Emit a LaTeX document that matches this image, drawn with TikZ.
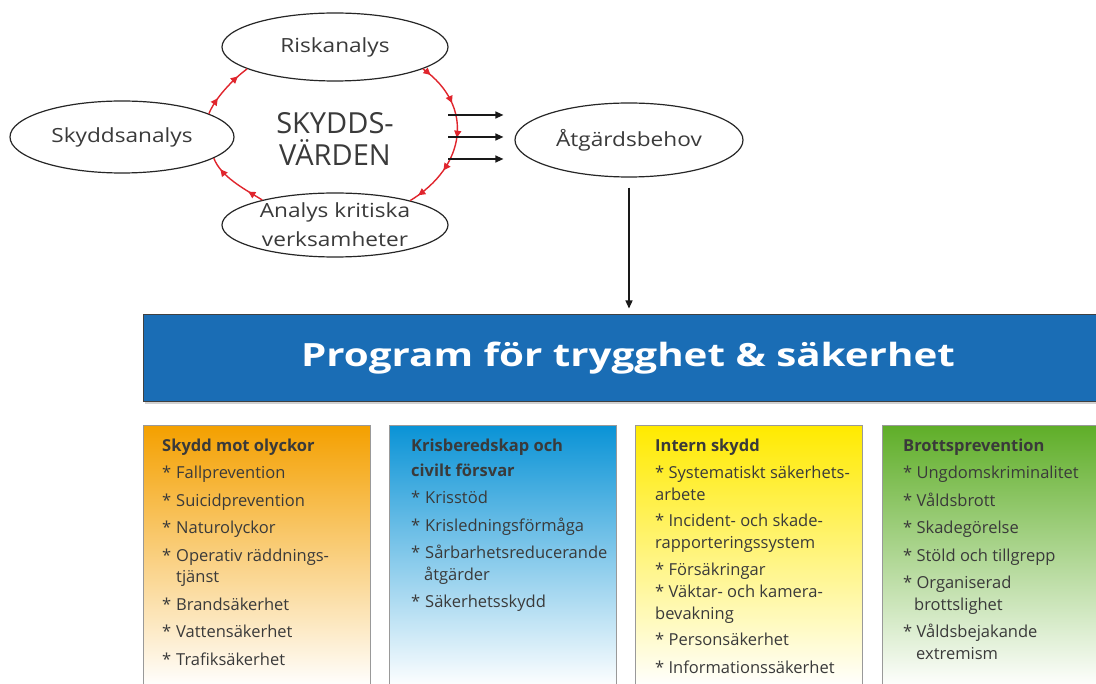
\documentclass[tikz,border=0pt]{standalone}
\usepackage{fontspec}
\setmainfont{Open Sans}
\newfontfamily\ovalfont[FakeStretch=1.16]{Open Sans}
\newfontfamily\bannerfont[FakeStretch=1.26]{Open Sans}
\usepackage{xcolor}
\usetikzlibrary{shapes,arrows.meta,decorations.markings,shadows}

\definecolor{txtgray}{HTML}{3A3A3A}
\definecolor{loopred}{HTML}{E0252D}
\definecolor{bannerblue}{HTML}{1A6DB5}
\definecolor{olyckor}{HTML}{F4A000}
\definecolor{kris}{HTML}{0A93D6}
\definecolor{intern}{HTML}{FFEA00}
\definecolor{brott}{HTML}{5FAE28}

\newcommand{\itemstar}{\makebox[14pt][l]{*}}

\begin{document}
\begin{tikzpicture}[x=1pt,y=-1pt]
\tikzstyle{oval} = [ellipse, draw=black!85, line width=1.2pt, minimum width=226pt, minimum height=68pt, inner sep=0pt, text=txtgray, font=\ovalfont\fontsize{19.5}{29}\selectfont, align=center]
\tikzstyle{redarc} = [draw=loopred, line width=1.4pt, postaction={decorate}]
\tikzstyle{tips} = [decoration={markings, mark=between positions #1 with {\arrow{Triangle[length=7pt,width=7pt]}}}]
\tikzstyle{flow} = [-{Triangle[length=8pt,width=7pt]}, line width=1.3pt, black!90]
\tikzstyle{catbox} = [draw=black!40, line width=1pt, minimum width=227pt, minimum height=262pt, anchor=north west, shading=axis, bottom color=white]
\tikzstyle{cattext} = [anchor=north west, align=left, text=txtgray, inner sep=0pt, font=\fontsize{16.5}{21.5}\selectfont]
\clip (0,0) rectangle (1096,684);
\fill[white] (0,0) rectangle (1096,684);

\node [oval] (risk) at (335,47) {Riskanalys};
\node [oval, minimum width=224pt, minimum height=72pt] (skydd) at (122,137) {Skyddsanalys};
\node [oval, minimum height=64pt, inner ysep=-8pt] (krit) at (335,225) {Analys kritiska\\verksamheter};
\node [oval, minimum width=228pt, minimum height=74pt] (atg) at (629,140) {Åtgärdsbehov};
\node [text=txtgray, align=center, font=\fontsize{29}{32}\selectfont] (varden) at (335,139) {SKYDDS-\\VÄRDEN};

\draw [redarc, tips={0.3 and 0.8 step 0.5}] (skydd.15) .. controls +(6,-15) and +(-15,11) .. (risk.194);
\draw [redarc, tips={0.06 and 0.94 step 0.22}] (risk.346) .. controls +(52,37) and +(56,-34) .. (krit.18);
\draw [redarc, tips={0.25 and 0.8 step 0.55}] (krit.161) .. controls +(-20,-12) and +(7,18) .. (skydd.-13);

\coordinate (o1) at (448,115);
\coordinate (o2) at (448,137);
\coordinate (o3) at (448,159);
\draw [flow, shorten >=11pt] (o1) -- (o1 -| atg.west);
\draw [flow, shorten >=11pt] (o2) -- (o2 -| atg.west);
\draw [flow, shorten >=11pt] (o3) -- (o3 -| atg.west);

\node [draw=black!75, line width=1pt, fill=bannerblue, minimum width=968pt, minimum height=87pt, drop shadow={shadow xshift=1.5pt, shadow yshift=-2pt, opacity=0.35}] (banner) at (627,358.5) {};
\node [text=white, font=\bannerfont\fontsize{32}{36}\selectfont\bfseries] (title) at (628,358) {Program för trygghet \& säkerhet};
\draw [flow, shorten <=10pt, shorten >=6pt] (atg.south) -- (atg.south |- banner.north);

\node [catbox, top color=olyckor] (box1) at (143,425) {};
\node [catbox, top color=kris] (box2) at (389,425) {};
\node [catbox, top color=intern] (box3) at (635,425) {};
\node [catbox, top color=brott] (box4) at (882,425) {};

\node [cattext] (list1) at (162,439) {\textbf{Skydd mot olyckor}\\[5.5pt]
\itemstar Fallprevention\\[6pt]
\itemstar Suicidprevention\\[6pt]
\itemstar Naturolyckor\\[6pt]
\itemstar Operativ räddnings-\\
\hspace*{14pt}tjänst\\[6pt]
\itemstar Brandsäkerhet\\[6pt]
\itemstar Vattensäkerhet\\[6pt]
\itemstar Trafiksäkerhet};

\node [cattext] (list2) at (411,439) {\textbf{Krisberedskap och}\\[3.5pt]
\textbf{civilt försvar}\\[5.5pt]
\itemstar Krisstöd\\[6pt]
\itemstar Krisledningsförmåga\\[6pt]
\itemstar Sårbarhetsreducerande\\
\hspace*{13pt}åtgärder\\[6pt]
\itemstar Säkerhetsskydd};

\node [cattext, font=\fontsize{16.5}{22}\selectfont] (list3) at (655,439) {\textbf{Intern skydd}\\[5pt]
* Systematiskt säkerhets-\\
arbete\\[4pt]
* Incident- och skade-\\
rapporteringssystem\\[5pt]
* Försäkringar\\
* Väktar- och kamera-\\
bevakning\\[4pt]
* Personsäkerhet\\[6pt]
* Informationssäkerhet};

\node [cattext] (list4) at (903,439) {\textbf{Brottsprevention}\\[5.5pt]
* Ungdomskriminalitet\\[6pt]
* Våldsbrott\\[6pt]
* Skadegörelse\\[6pt]
* Stöld och tillgrepp\\[6pt]
* Organiserad\\
\hspace*{11pt}brottslighet\\[6pt]
* Våldsbejakande\\
\hspace*{13pt}extremism};
\end{tikzpicture}
\end{document}
